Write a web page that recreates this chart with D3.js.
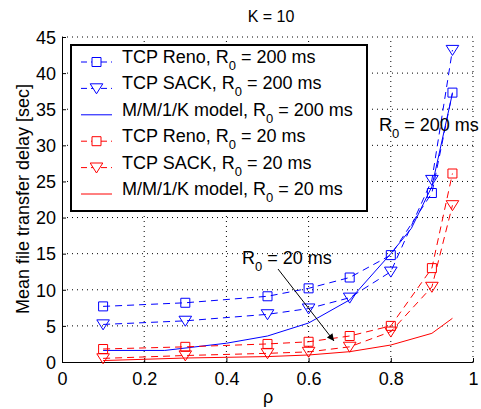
<!DOCTYPE html>
<html><head><meta charset="utf-8">
<script src="https://cdn.jsdelivr.net/npm/d3@7"></script>
<style>body{margin:0;background:#fff}svg{display:block}text{font-family:"Liberation Sans",Arial,sans-serif;fill:#000}</style>
</head><body>
<svg id="c" width="481" height="409"></svg>
<script>
const rho = [0.1, 0.3, 0.5, 0.6, 0.7, 0.8, 0.9, 0.95];
const renoR200 = [7.7, 8.2, 9.1, 10.2, 11.7, 14.8, 23.4, 37.3];
const sackR200 = [5.2, 5.7, 6.6, 7.4, 8.9, 12.5, 25.2, 43.2];
const modelRho200 = [0.1, 0.25, 0.4, 0.5, 0.6, 0.7, 0.8, 0.85, 0.9, 0.95];
const modelR200 = [1.6, 1.6, 2.6, 3.6, 5.4, 8.6, 15.0, 18.5, 24.3, 37.2];
const renoR20 = [1.8, 2.1, 2.5, 2.8, 3.6, 5.0, 13.0, 26.1];
const sackR20 = [0.5, 0.9, 1.2, 1.4, 2.1, 4.2, 10.4, 21.7];
const modelRho20 = [0.1, 0.3, 0.5, 0.6, 0.7, 0.8, 0.9, 0.95];
const modelR20 = [0.2, 0.55, 0.75, 0.97, 1.43, 2.35, 3.97, 6.05];
const xTicks = [0, 0.2, 0.4, 0.6, 0.8, 1];
const yTicks = [0, 5, 10, 15, 20, 25, 30, 35, 40, 45];
const legendLabels = ["TCP Reno, R|0| = 200 ms", "TCP SACK, R|0| = 200 ms", "M/M/1/K model, R|0| = 200 ms",
                      "TCP Reno, R|0| = 20 ms", "TCP SACK, R|0| = 20 ms", "M/M/1/K model, R|0| = 20 ms"];
const title = "K = 10", xLabel = "ρ", yLabel = "Mean file transfer delay [sec]";

const FS = 18, SUB = 13;
const svg = d3.select("#c");
const L = 62, R = 473, T = 37, B = 362;
const x = d3.scaleLinear().domain([0, 1]).range([L, R]);
const y = d3.scaleLinear().domain([0, 45]).range([B, T]);

// grid
const g = svg.append("g");
xTicks.slice(1).forEach(t => g.append("line").attr("x1", x(t)).attr("x2", x(t)).attr("y1", B).attr("y2", T)
  .attr("stroke", "#000").attr("stroke-width", 1).attr("stroke-dasharray", "1,4"));
yTicks.slice(1).forEach(t => g.append("line").attr("x1", L).attr("x2", R).attr("y1", y(t)).attr("y2", y(t))
  .attr("stroke", "#000").attr("stroke-width", 1).attr("stroke-dasharray", "1,4"));

// axes
const xa = svg.append("g").attr("transform", `translate(0,${B})`)
  .call(d3.axisBottom(x).tickValues(xTicks).tickFormat(d => d === 0 || d === 1 ? d3.format("d")(d) : d3.format(".1f")(d)).tickSizeInner(-4).tickSizeOuter(0).tickPadding(9));
const ya = svg.append("g").attr("transform", `translate(${L},0)`)
  .call(d3.axisLeft(y).tickValues(yTicks).tickSizeInner(-4).tickSizeOuter(0).tickPadding(6));
[xa, ya].forEach(a => {
  a.select(".domain").attr("stroke", "#000");
  a.selectAll("text").style("font-size", FS + "px").attr("fill", "#000").style("font-family", "Liberation Sans, Arial, sans-serif");
});
ya.selectAll("text").attr("dy", "0.35em");
xa.selectAll(".tick text").attr("dy", "0.8em");

// series
const line = d3.line().x(d => x(d[0])).y(d => y(d[1]));
const sq = d3.symbol().type(d3.symbolSquare).size(81);
const triPath = "M-6.3,-4.6L6.3,-4.6L0,5.4Z";
function series(xs, ys, color, dashed, marker) {
  const pts = xs.map((v, i) => [v, ys[i]]);
  svg.append("path").attr("d", line(pts)).attr("fill", "none").attr("stroke", color).attr("stroke-width", 1)
    .attr("stroke-dasharray", dashed ? "7,5" : null);
  if (marker) svg.selectAll(null).data(pts).enter().append("path")
    .attr("d", marker === "sq" ? sq() : triPath)
    .attr("transform", d => `translate(${x(d[0])},${y(d[1])})`)
    .attr("fill", "none").attr("stroke", color).attr("stroke-width", 1);
}
const BLUE = "#0000ff", RED = "#ff0000";
series(modelRho200, modelR200, BLUE, false, null);
series(rho, renoR200, BLUE, true, "sq");
series(rho, sackR200, BLUE, true, "tri");
series(modelRho20, modelR20, RED, false, null);
series(rho, renoR20, RED, true, "sq");
series(rho, sackR20, RED, true, "tri");

// legend
const lg = svg.append("g");
lg.append("rect").attr("x", 71).attr("y", 45).attr("width", 296).attr("height", 166)
  .attr("fill", "#fff").attr("stroke", "#000").attr("stroke-width", 2);
const legendStyle = [[BLUE, true, "sq"], [BLUE, true, "tri"], [BLUE, false, null], [RED, true, "sq"], [RED, true, "tri"], [RED, false, null]];
function subText(sel, str) {
  const parts = str.split("|");
  sel.append("tspan").text(parts[0]);
  sel.append("tspan").text(parts[1]).style("font-size", SUB + "px").attr("dy", 7);
  sel.append("tspan").text(parts[2]).attr("dy", -7);
}
legendLabels.forEach((lab, i) => {
  const cy = 62 + i * 26.4;
  const [c, dashed, m] = legendStyle[i];
  lg.append("line").attr("x1", 81).attr("x2", 112).attr("y1", cy).attr("y2", cy).attr("stroke", c).attr("stroke-width", 1)
    .attr("stroke-dasharray", dashed ? "6,4" : null);
  if (m) lg.append("path").attr("d", m === "sq" ? sq() : triPath).attr("transform", `translate(96.5,${cy})`)
    .attr("fill", "#fff").attr("stroke", c);
  const t = lg.append("text").attr("x", 122).attr("y", cy + 1).style("font-size", FS + "px");
  subText(t, lab);
});

// annotations
const a1 = svg.append("text").attr("x", 379).attr("y", 131).style("font-size", FS + "px");
subText(a1, "R|0| = 200 ms");
const a2 = svg.append("text").attr("x", 242).attr("y", 264).style("font-size", FS + "px");
subText(a2, "R|0| = 20 ms");
svg.append("defs").append("marker").attr("id", "ah").attr("viewBox", "0 0 10 10").attr("refX", 10).attr("refY", 5)
  .attr("markerWidth", 10).attr("markerHeight", 7).attr("markerUnits", "userSpaceOnUse").attr("orient", "auto")
  .append("path").attr("d", "M0,0L10,5L0,10Z").attr("fill", "#000");
svg.append("line").attr("x1", 278).attr("y1", 269).attr("x2", 334).attr("y2", 341)
  .attr("stroke", "#000").attr("stroke-width", 1).attr("marker-end", "url(#ah)");

// titles
svg.append("text").attr("x", 271).attr("y", 22).attr("text-anchor", "middle").style("font-size", "16px").text(title);
svg.append("text").attr("x", 268).attr("y", 403).attr("text-anchor", "middle").style("font-size", FS + "px").text(xLabel);
svg.append("text").attr("transform", "translate(29,199) rotate(-90)").attr("text-anchor", "middle").style("font-size", FS + "px").text(yLabel);
</script>
</body></html>
